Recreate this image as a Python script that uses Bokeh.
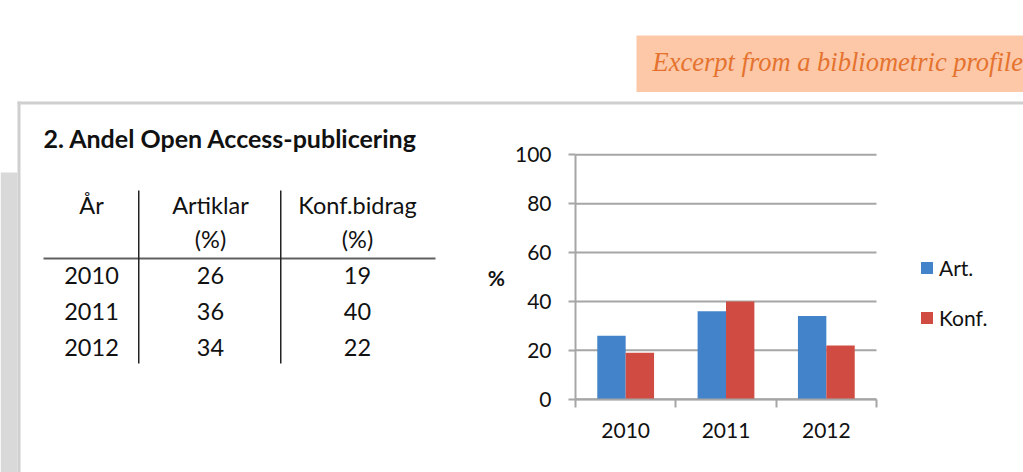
import numpy as np
from bokeh.plotting import figure
from bokeh.models import (Range1d, FixedTicker, Legend, LegendItem, ColumnDataSource,
                          LinearAxis)
from bokeh.core.properties import value
from bokeh.embed import file_html
from bokeh.resources import INLINE

# ---------------- data ----------------
years = ["2010", "2011", "2012"]
art = [26, 36, 34]
konf = [19, 40, 22]
series_names = ["Art.", "Konf."]
table_headers = ["År", "Artiklar", "Konf.bidrag"]
table_units = ["", "(%)", "(%)"]
title_text = "2. Andel Open Access-publicering"
banner_text = "Excerpt from a bibliometric profile"
y_ticks = [0, 20, 40, 60, 80, 100]
y_label = "%"

# ---------------- style / layout constants ----------------
W, H = 1023, 472
FONT = "Lato"
BLUE = "#4283c9"
RED = "#d04c43"
GRID = "#a6a6a6"
FRAME_GRAY = "#cfcfcf"
BLOCK_GRAY = "#d9d9d9"
TXT = "#111111"

# chart plot area in page pixels
CX0, CX1 = 575.0, 876.0      # x data 0 .. n
CY0, CY1 = 398.7, 154.3      # y data 0 .. 100
n = len(years)
sx = (CX1 - CX0) / n
sy = (CY0 - CY1) / 100.0
x_range = Range1d(0 - CX0 / sx, n + (W - CX1) / sx)
y_range = Range1d(0 - (H - CY0) / sy, 100 + CY1 / sy)

p = figure(width=W, height=H, output_backend="svg", toolbar_location=None,
           x_range=x_range, y_range=y_range,
           x_axis_location=None, y_axis_location=None, min_border=0)
p.grid.visible = False
p.outline_line_color = None
p.background_fill_color = "white"
p.border_fill_color = "white"
p.extra_x_ranges = {"px": Range1d(0, W)}
p.extra_y_ranges = {"px": Range1d(H, 0)}
PX = dict(x_range_name="px", y_range_name="px")

# ---------------- slide decorations (page pixel coordinates) ----------------
deco = ColumnDataSource(dict(
    l=[636, 17, 17, 0, 43, 137.5, 279.5],
    r=[W, W, 20, 17, 435, 139, 281],
    t=[35, 101, 101, 172, 257, 190, 190],
    b=[91.5, 104, H, H, 259, 363, 363],
    c=["#fcc8a8", FRAME_GRAY, FRAME_GRAY, BLOCK_GRAY, "#606060", "#222222", "#222222"],
))
p.quad(left="l", right="r", top="t", bottom="b", fill_color="c",
       line_color=None, source=deco, **PX)

p.text(x=[652], y=[61], text=[banner_text], text_font=value("Liberation Serif"),
       text_font_style="italic", text_font_size="26.5px", text_color="#e5732f",
       text_align="left", text_baseline="alphabetic", **PX)
p.text(x=[43], y=[137], text=[title_text], text_font=value(FONT),
       text_font_style="bold", text_font_size="25px", text_color=TXT,
       text_align="left", text_baseline="alphabetic", **PX)

col_x = [91, 210, 357]
hdr_y, unit_y = 204, 238
row_y = [275, 311, 347]
cells_x, cells_y, cells_t = [], [], []
for xh, hdr, unit in zip(col_x, table_headers, table_units):
    cells_x.append(xh); cells_y.append(hdr_y); cells_t.append(hdr)
    if unit:
        cells_x.append(xh); cells_y.append(unit_y); cells_t.append(unit)
for yy, yr, a, k in zip(row_y, years, art, konf):
    for xx, t in zip(col_x, [yr, str(a), str(k)]):
        cells_x.append(xx); cells_y.append(yy); cells_t.append(t)
p.text(x="x", y="y", text="t",
       source=ColumnDataSource(dict(x=cells_x, y=cells_y, t=cells_t)),
       text_font=value(FONT), text_font_size="23.5px", text_color=TXT,
       text_align="center", text_baseline="alphabetic", **PX)

# ---------------- chart ----------------
p.segment(x0=[0] * len(y_ticks), x1=[n] * len(y_ticks), y0=y_ticks, y1=y_ticks,
          line_color=GRID, line_width=2)

idx = np.arange(n)
bw = 0.283
src = ColumnDataSource(dict(x_art=idx + 0.5 - bw / 2, x_konf=idx + 0.5 + bw / 2,
                            art=art, konf=konf))
r_art = p.vbar(x="x_art", top="art", width=bw, source=src,
               fill_color=BLUE, line_color=None)
r_konf = p.vbar(x="x_konf", top="konf", width=bw, source=src,
                fill_color=RED, line_color=None)

yax = LinearAxis(fixed_location=0, bounds=(0, 100), ticker=FixedTicker(ticks=y_ticks))
yax.axis_line_color = GRID
yax.axis_line_width = 2
yax.major_tick_line_color = GRID
yax.major_tick_line_width = 2
yax.major_tick_out = 7
yax.major_tick_in = 0
yax.minor_tick_line_color = None
yax.major_label_text_font = FONT
yax.major_label_text_font_size = "21px"
yax.major_label_text_color = TXT
yax.major_label_standoff = 17
yax.axis_label = y_label
yax.axis_label_orientation = "horizontal"
yax.axis_label_text_font = FONT
yax.axis_label_text_font_style = "bold"
yax.axis_label_text_font_size = "21px"
yax.axis_label_text_color = TXT
yax.axis_label_standoff = 7
p.add_layout(yax, "left")

centers = [i + 0.5 for i in range(n)]
xax = LinearAxis(fixed_location=0, bounds=(0, n),
                 ticker=FixedTicker(ticks=centers, minor_ticks=list(range(n + 1))))
xax.major_label_overrides = {c: y for c, y in zip(centers, years)}
xax.axis_line_color = GRID
xax.axis_line_width = 2
xax.major_tick_line_color = None
xax.major_tick_out = 0
xax.major_tick_in = 0
xax.minor_tick_line_color = GRID
xax.minor_tick_line_width = 2
xax.minor_tick_out = 8
xax.minor_tick_in = 0
xax.major_label_text_font = FONT
xax.major_label_text_font_size = "21px"
xax.major_label_text_color = TXT
xax.major_label_standoff = 16
p.add_layout(xax, "below")

legend = Legend(items=[LegendItem(label=series_names[0], renderers=[r_art]),
                       LegendItem(label=series_names[1], renderers=[r_konf])],
                location=(919, 142), orientation="vertical",
                glyph_width=15, glyph_height=15, label_standoff=5,
                spacing=25, padding=0, margin=0,
                border_line_color=None, background_fill_alpha=0,
                label_text_font=FONT, label_text_font_size="21px",
                label_text_color=TXT)
p.add_layout(legend, "center")

open("out.html", "w").write(file_html(p, INLINE))
